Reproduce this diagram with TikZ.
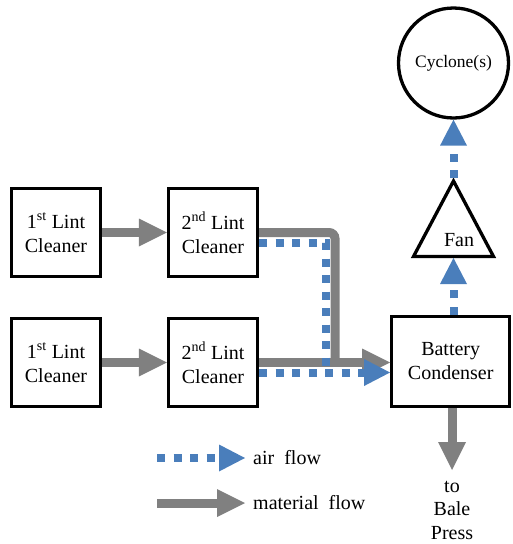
\documentclass[tikz,border=0pt]{standalone}
\usepackage{fontspec}
\setmainfont{Liberation Serif}
\usetikzlibrary{arrows.meta,calc}
\definecolor{flowgray}{RGB}{128,128,128}
\definecolor{airblue}{RGB}{74,126,187}
\tikzset{
  box/.style={draw, line width=3.3pt, minimum width=89pt, minimum height=88pt,
    inner sep=0pt, align=center, font=\fontsize{20}{24}\selectfont},
  lbl/.style={inner sep=0pt, align=center, font=\fontsize{20}{23.5}\selectfont},
  matflow/.style={draw=flowgray, line width=9pt,
    -{Triangle[length=28pt,width=28pt,line width=0pt]}},
  airflow/.style={draw=airblue, line width=8pt, dash pattern=on 8pt off 8.5pt,
    -{Triangle[length=26pt,width=27pt,line width=0pt]}},
}
\begin{document}
\begin{tikzpicture}[x=1pt,y=-1pt]
  \useasboundingbox (0,0) rectangle (512,544);
  % cleaners and condenser
  \node[box] (c1a) at (56,232.5) {1\textsuperscript{st} Lint\\Cleaner};
  \node[box] (c2a) at (213,232.5) {2\textsuperscript{nd} Lint\\Cleaner};
  \node[box] (c1b) at (56,362.5) {1\textsuperscript{st} Lint\\Cleaner};
  \node[box] (c2b) at (213,362.5) {2\textsuperscript{nd} Lint\\Cleaner};
  \node[box, minimum width=118pt, minimum height=90pt] (batt) at (450.7,361.5) {Battery\\Condenser};
  % cyclone and fan
  \node[draw, circle, line width=3.3pt, minimum size=110pt, inner sep=0pt,
    font=\fontsize{17.5}{20}\selectfont] (cyc) at (453.5,63) {Cyclone(s)};
  \draw[line width=3.3pt] (453.5,181) -- (493.5,256.5) -- (413.5,256.5) -- cycle;
  \coordinate (fantop) at (453.5,178);
  \coordinate (fanbot) at (453.5,258);
  \node[lbl] (fan) at (459,240) {Fan};
  % material flow
  \draw[matflow] (c1a) -- (c2a);
  \draw[matflow] (c1b) -- (c2b);
  \draw[matflow, -, rounded corners=6pt] (c2a.east) -- (335,232.5) -- (335,362.5);
  \draw[matflow] (c2b.east) -- (c2b.east -| batt.west);
  % air flow
  \draw[airflow, -] ([yshift=-10.5pt]c2a.east) -- (326,243) -- (326,372);
  \draw[airflow] ([yshift=-10pt]c2b.east) -- ([yshift=-10pt]c2b.east -| batt.west);
  \draw[airflow] (fanbot |- batt.north) -- (fanbot);
  \draw[airflow] (fantop) -- (cyc.south);
  % to bale press
  \node[lbl, anchor=north] (press) at (452,481) {to\\Bale\\Press};
  \draw[matflow] (press.north |- batt.south) -- ([yshift=11pt]press.north);
  % legend
  \node[lbl, anchor=west] (airtxt) at (253,458) {air~ flow};
  \node[lbl, anchor=west] (mattxt) at (253,503) {material~ flow};
  \coordinate (airstart) at (157,458);
  \coordinate (matstart) at (157,503);
  \draw[airflow] (airstart) -- ([xshift=-8pt]airtxt.west);
  \draw[matflow] (matstart) -- ([xshift=-8pt]mattxt.west);
\end{tikzpicture}
\end{document}
